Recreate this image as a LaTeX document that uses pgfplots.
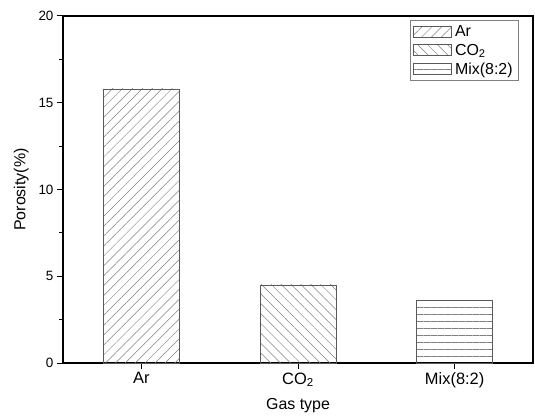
\documentclass[border=0pt]{standalone}
\usepackage{fontspec}
\setmainfont{Liberation Sans}
\usepackage{pgfplots}
\pgfplotsset{compat=1.18}
\usetikzlibrary{patterns.meta}
\begin{document}
\begin{tikzpicture}[x=1bp,y=1bp]
\begin{axis}[
  at={(0,0)}, anchor=south west,
  scale only axis,
  width=470bp, height=347bp,
  xmin=0.5, xmax=3.5, ymin=0, ymax=20,
  xtick={1,2,3},
  xticklabels={Ar, CO\textsubscript{2}, Mix(8:2)},
  ytick={0,5,10,15,20},
  minor y tick num=1,
  tick align=outside,
  tick pos=left,
  major tick length=6bp, minor tick length=4bp,
  axis line style={line width=1.2bp},
  every tick/.style={black, line width=1bp},
  /pgf/number format/assume math mode=true,
  yticklabel style={font=\fontsize{13.5}{15}\selectfont},
  xticklabel style={font=\fontsize{16.5}{18}\selectfont},
  xlabel={Gas type}, ylabel={Porosity(\%)},
  label style={font=\fontsize{16}{18}\selectfont},
  xlabel style={yshift=-4bp},
  ylabel style={yshift=3bp},
  ybar, bar width=76bp, bar shift=0pt,
  legend style={at={(0.970,0.988)}, anchor=north east, draw=gray, line width=0.6bp,
    font=\fontsize{16}{18}\selectfont, row sep=2bp, inner sep=3bp,
    nodes={inner xsep=3bp}},
  legend cell align=left,
  legend image code/.code={\draw[#1] (0bp,-5.5bp) rectangle (38bp,5.5bp);},
]
\addplot[draw=gray!70!black, line width=0.6bp, pattern={Lines[angle=45,distance=7bp,line width=0.5bp]}, pattern color=gray] coordinates {(1,15.8)};
\addlegendentry{Ar}
\addplot[draw=gray!70!black, line width=0.6bp, pattern={Lines[angle=-45,distance=7bp,line width=0.5bp]}, pattern color=gray] coordinates {(2,4.5)};
\addlegendentry{CO\textsubscript{2}}
\addplot[draw=gray!70!black, line width=0.6bp, pattern={Lines[angle=0,distance=7bp,line width=0.5bp]}, pattern color=gray] coordinates {(3,3.6)};
\addlegendentry{Mix(8:2)}
\end{axis}
\pgfresetboundingbox
\useasboundingbox (-63,-56) rectangle (472,363);
\end{tikzpicture}
\end{document}
